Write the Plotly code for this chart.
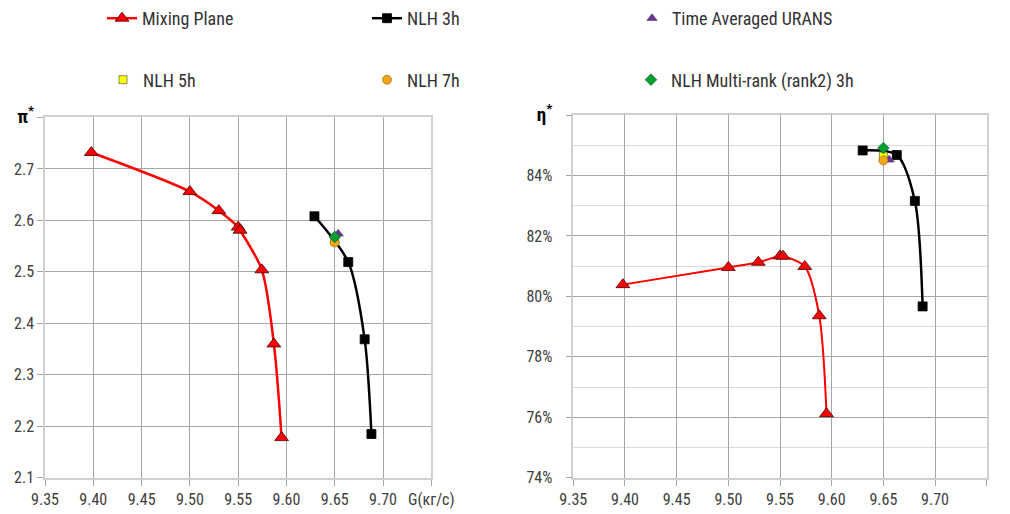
import plotly.graph_objects as go

# ---- data ----
mp_g = [9.398, 9.500, 9.530, 9.550, 9.552, 9.5745, 9.587, 9.595]
mp_pi = [2.732, 2.656, 2.619, 2.587, 2.581, 2.504, 2.360, 2.178]
mp_g_eta = [9.398, 9.500, 9.529, 9.550, 9.553, 9.574, 9.588, 9.595]
mp_eta = [80.39, 80.96, 81.13, 81.34, 81.33, 80.99, 79.36, 76.12]

nlh3_g = [9.629, 9.664, 9.681, 9.688]
nlh3_pi = [2.608, 2.519, 2.369, 2.185]
nlh3_g_eta = [9.630, 9.663, 9.6805, 9.688]
nlh3_eta = [84.83, 84.68, 83.16, 79.67]

urans_g = [9.6536]
urans_pi = [2.574]
urans_g_eta = [9.6556]
urans_eta = [84.52]

nlh5_g = [9.650]
nlh5_pi = [2.560]
nlh5_eta = [84.64]

nlh7_g = [9.650]
nlh7_pi = [2.557]
nlh7_eta = [84.50]

mr_g = [9.650]
mr_pi = [2.568]
mr_eta = [84.91]

x_tickvals = [9.35, 9.40, 9.45, 9.50, 9.55, 9.60, 9.65, 9.70, 9.75]
x_ticktext_left = ["9.35", "9.40", "9.45", "9.50", "9.55", "9.60", "9.65", "9.70", "G(кг/с)"]
x_ticktext_right = ["9.35", "9.40", "9.45", "9.50", "9.55", "9.60", "9.65", "9.70", "G (кг/с)"]
pi_tickvals = [2.1, 2.2, 2.3, 2.4, 2.5, 2.6, 2.7, 2.8]
pi_ticktext = ["2.1", "2.2", "2.3", "2.4", "2.5", "2.6", "2.7",
               "<span style='font-size:19px;color:#000'><b>π<sup>*</sup></b></span>"]
eta_tickvals = [74, 76, 78, 80, 82, 84, 86]
eta_ticktext = ["74%", "76%", "78%", "80%", "82%", "84%",
                "<span style='font-size:19px;color:#000'><b>η<sup>*</sup></b></span>"]
eta_minor = [75, 77, 79, 81, 83, 85]

FONT = "Roboto Condensed, Roboto, sans-serif"
TXT = "#404040"

fig = go.Figure()

def add(x, y, xa, ya, name, legend, show, mode, marker, line=None):
    kw = dict(x=x, y=y, xaxis=xa, yaxis=ya, name=name, legend=legend,
              showlegend=show, mode=mode, marker=marker)
    if line is not None:
        kw["line"] = line
    fig.add_trace(go.Scatter(**kw))

red_m = dict(symbol="triangle-up", size=12, color="#ff0000", line=dict(color="#400000", width=0.8))
blk_m = dict(symbol="square", size=9, color="#000000", line=dict(color="#000000", width=0.8))
pur_m = dict(symbol="triangle-up", size=9, color="#7030a0", line=dict(color="#404040", width=0.6))
yel_m = dict(symbol="square", size=8, color="#ffff00", line=dict(color="#404040", width=0.6))
org_m = dict(symbol="circle", size=9, color="#f4a71d", line=dict(color="#7f6000", width=0.6))
grn_m = dict(symbol="diamond", size=9, color="#00a030", line=dict(color="#1f4f1f", width=0.6))

# left subplot
add(mp_g, mp_pi, "x", "y", "Mixing Plane", "legend", True, "lines+markers", red_m,
    dict(color="#ff0000", width=2.5, shape="spline", smoothing=0.8))
add(nlh3_g, nlh3_pi, "x", "y", "NLH 3h", "legend", True, "lines+markers", blk_m,
    dict(color="#000000", width=2.5, shape="spline", smoothing=0.8))
add(urans_g, urans_pi, "x", "y", "Time Averaged URANS", "legend", True, "markers", pur_m)
add(nlh5_g, nlh5_pi, "x", "y", "NLH 5h", "legend2", True, "markers", yel_m)
add(nlh7_g, nlh7_pi, "x", "y", "NLH 7h", "legend2", True, "markers", org_m)
add(mr_g, mr_pi, "x", "y", "NLH Multi-rank (rank2) 3h", "legend2", True, "markers", grn_m)

# right subplot
add(mp_g_eta, mp_eta, "x2", "y2", "Mixing Plane", "legend", False, "lines+markers", red_m,
    dict(color="#ff0000", width=2, shape="spline", smoothing=0.8))
add(nlh3_g_eta, nlh3_eta, "x2", "y2", "NLH 3h", "legend", False, "lines+markers", blk_m,
    dict(color="#000000", width=2.5, shape="spline", smoothing=0.8))
add(urans_g_eta, urans_eta, "x2", "y2", "Time Averaged URANS", "legend", False, "markers", pur_m)
add(nlh5_g, nlh5_eta, "x2", "y2", "NLH 5h", "legend2", False, "markers", yel_m)
add(nlh7_g, nlh7_eta, "x2", "y2", "NLH 7h", "legend2", False, "markers", org_m)
add(mr_g, mr_eta, "x2", "y2", "NLH Multi-rank (rank2) 3h", "legend2", False, "markers", grn_m)

W, H = 1010, 514
GRID = "#a6a6a6"
EDGE = "#d0d0d0"
tickfont = dict(family=FONT, size=16, color=TXT)

xcommon = dict(range=[9.35, 9.75], tickmode="array", tickvals=x_tickvals,
               showgrid=True, gridcolor=GRID, gridwidth=1, zeroline=False,
               showline=True, mirror=True, linecolor=EDGE, linewidth=1.5,
               ticks="outside", ticklen=6, tickcolor=GRID, tickfont=tickfont,
               automargin=False)

fig.update_layout(
    width=W, height=H,
    margin=dict(l=0, r=0, t=0, b=0),
    paper_bgcolor="white", plot_bgcolor="white",
    font=dict(family=FONT, size=16, color=TXT),
    xaxis=dict(domain=[45/W, 431.3/W], anchor="y", ticktext=x_ticktext_left, **xcommon),
    yaxis=dict(domain=[1-477.7/H, 1-116.7/H], anchor="x", range=[2.1, 2.8],
               tickmode="array", tickvals=pi_tickvals, ticktext=pi_ticktext,
               showgrid=True, gridcolor=GRID, zeroline=False,
               showline=True, mirror=True, linecolor=EDGE, linewidth=1.5,
               ticks="outside", ticklen=6, tickcolor=GRID, tickfont=tickfont,
               automargin=False),
    xaxis2=dict(domain=[573.3/W, 986.7/W], anchor="y2", ticktext=x_ticktext_right, **xcommon),
    yaxis2=dict(domain=[1-477.7/H, 1-114.3/H], anchor="x2", range=[74, 86],
                tickmode="array", tickvals=eta_tickvals, ticktext=eta_ticktext,
                minor=dict(tickmode="array", tickvals=eta_minor, showgrid=True,
                           gridcolor="#d9d9d9", ticks=""),
                showgrid=True, gridcolor=GRID, zeroline=False,
                showline=True, mirror=True, linecolor=EDGE, linewidth=1.5,
                ticks="outside", ticklen=6, tickcolor=GRID, tickfont=tickfont,
                ticklabelstandoff=10, automargin=False),
    legend=dict(orientation="h", x=102/W, xanchor="left", y=1-18/H, yanchor="middle",
                entrywidth=220, entrywidthmode="pixels", bgcolor="rgba(0,0,0,0)",
                font=dict(family=FONT, size=18, color="#333333"), tracegroupgap=0),
    legend2=dict(orientation="h", x=103/W, xanchor="left", y=1-80/H, yanchor="middle",
                 entrywidth=219, entrywidthmode="pixels", bgcolor="rgba(0,0,0,0)",
                 font=dict(family=FONT, size=18, color="#333333"), tracegroupgap=0),
)

fig.write_html("out.html")
